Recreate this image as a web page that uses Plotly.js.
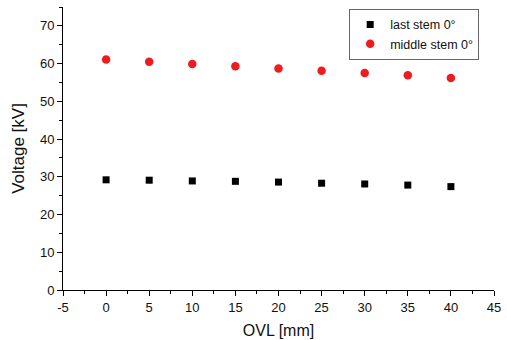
<!DOCTYPE html>
<html>
<head>
<meta charset="utf-8">
<script src="https://cdn.plot.ly/plotly-3.0.1.min.js"></script>
<style>html,body{margin:0;padding:0;background:#fff;}#chart{width:507px;height:340px;}</style>
</head>
<body>
<div id="chart"></div>
<script>
const ovl = [0, 5, 10, 15, 20, 25, 30, 35, 40];
const lastStem = [29.2, 29.1, 28.9, 28.8, 28.6, 28.3, 28.1, 27.8, 27.4];
const middleStem = [61.1, 60.5, 59.9, 59.3, 58.7, 58.1, 57.5, 56.9, 56.2];
const xTicks = [-5, 0, 5, 10, 15, 20, 25, 30, 35, 40, 45];
const yTicks = [0, 10, 20, 30, 40, 50, 60, 70];

const traces = [
  {x: ovl, y: lastStem, name: 'last stem 0°', type: 'scatter', mode: 'markers',
   marker: {symbol: 'square', size: 7, color: '#000000'}},
  {x: ovl, y: middleStem, name: 'middle stem 0°', type: 'scatter', mode: 'markers',
   marker: {symbol: 'circle', size: 8.5, color: '#ee1c1c'}}
];

const layout = {
  width: 507, height: 340,
  margin: {l: 63, r: 13, t: 7, b: 50},
  paper_bgcolor: '#ffffff', plot_bgcolor: '#ffffff',
  font: {family: 'Liberation Sans, Arial, sans-serif', size: 13, color: '#111'},
  showlegend: true,
  legend: {x: 0.664, y: 0.993, xanchor: 'left', yanchor: 'top',
    bordercolor: '#666', borderwidth: 1, bgcolor: '#fff',
    font: {size: 12.5, color: '#111'}, tracegroupgap: 0, itemwidth: 30},
  xaxis: {
    range: [-5, 45], tickvals: xTicks, ticktext: xTicks.map(String),
    showgrid: false, zeroline: false, showline: true, linecolor: '#000', linewidth: 1,
    ticks: 'outside', ticklen: 5, tickcolor: '#000', tickwidth: 1,
    minor: {dtick: 2.5, ticks: 'outside', ticklen: 3, tickcolor: '#000', showgrid: false},
    tickfont: {size: 13},
    title: {text: 'OVL [mm]', font: {size: 16}, standoff: 11}
  },
  yaxis: {
    range: [0, 75], tickvals: yTicks, ticktext: yTicks.map(String),
    showgrid: false, zeroline: false, showline: true, linecolor: '#000', linewidth: 1,
    ticks: 'outside', ticklen: 5, tickcolor: '#000', tickwidth: 1,
    minor: {dtick: 5, ticks: 'outside', ticklen: 3, tickcolor: '#000', showgrid: false},
    tickfont: {size: 13},
    title: {text: 'Voltage [kV]', font: {size: 17}, standoff: 10}
  }
};

Plotly.newPlot('chart', traces, layout, {displayModeBar: false, staticPlot: true});
</script>
</body>
</html>
